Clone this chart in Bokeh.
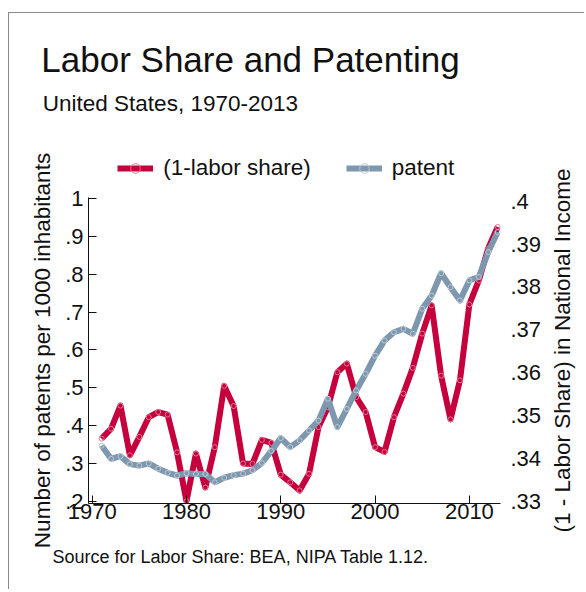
from math import pi
from bokeh.plotting import figure
from bokeh.layouts import column, row
from bokeh.models import Range1d, LinearAxis, FixedTicker, Legend, LegendItem, Label
from bokeh.embed import file_html
from bokeh.resources import INLINE

# ---------------- data ----------------
years = list(range(1971, 2014))
one_minus_labor_share = [
    0.3446, 0.3469, 0.3523, 0.3407, 0.3450, 0.3496, 0.3508, 0.3502, 0.3414, 0.3300,
    0.3411, 0.3332, 0.3426, 0.3569, 0.3522, 0.3388, 0.3387, 0.3443, 0.3436, 0.3362,
    0.3344, 0.3325, 0.3364, 0.3473, 0.3519, 0.3601, 0.3621, 0.3543, 0.3508, 0.3426,
    0.3415, 0.3496, 0.3551, 0.3611, 0.3691, 0.3757, 0.3593, 0.3491, 0.3582, 0.3759,
    0.3815, 0.3890, 0.3940,
]
patent = [
    0.347, 0.312, 0.319, 0.298, 0.294, 0.300, 0.286, 0.275, 0.268, 0.274,
    0.272, 0.272, 0.250, 0.262, 0.269, 0.273, 0.282, 0.301, 0.333, 0.367,
    0.343, 0.361, 0.387, 0.413, 0.471, 0.396, 0.444, 0.493, 0.537, 0.585,
    0.625, 0.647, 0.656, 0.643, 0.709, 0.744, 0.803, 0.766, 0.731, 0.784,
    0.793, 0.859, 0.912,
]
year_ticks = [1970, 1980, 1990, 2000, 2010]
left_ticks = [0.2, 0.3, 0.4, 0.5, 0.6, 0.7, 0.8, 0.9, 1.0]
left_tick_labels = [".2", ".3", ".4", ".5", ".6", ".7", ".8", ".9", "1"]
right_ticks = [0.33, 0.34, 0.35, 0.36, 0.37, 0.38, 0.39, 0.40]
right_tick_labels = [".33", ".34", ".35", ".36", ".37", ".38", ".39", ".4"]

title_text = "Labor Share and Patenting"
subtitle_text = "United States, 1970-2013"
source_text = "Source for Labor Share: BEA, NIPA Table 1.12."
left_title = "Number of patents per 1000 inhabitants"
right_title = "(1 - Labor Share) in National Income"
series_names = ["(1-labor share)", "patent"]

# ---------------- style ----------------
FONT = "Liberation Sans"
RED = "#c5003c"
RED_MK = "#e07a94"
BLUE = "#7d98ae"
BLUE_MK = "#bccad6"
INK = "#111111"

X0, X1 = 1969.61, 2013.30
YL0, YL1 = 0.1939, 1.0034
YR0, YR1 = 0.32946, 0.40086

COMMON = dict(output_backend="svg", toolbar_location=None, title=None)


def blank_fig(w, h, xr=None, yr=None):
    f = figure(width=w, height=h, x_range=xr or Range1d(0, w), y_range=yr or Range1d(h, 0),
               x_axis_type=None, y_axis_type=None, min_border=0, **COMMON)
    f.outline_line_color = None
    f.background_fill_color = None
    f.border_fill_color = None
    return f


def text(f, x, y, s, size, angle=0.0, align="left"):
    f.add_layout(Label(x=x, y=y, text=s, text_font=FONT, text_font_size=size,
                       text_color=INK, text_baseline="alphabetic", text_align=align,
                       angle=angle))


# ---------------- top: title + subtitle ----------------
top = blank_fig(576, 128)
text(top, 32.8, 47.2, title_text, "35px")
text(top, 34.3, 91, subtitle_text, "22.5px")

# ---------------- side titles ----------------
left_fig = blank_fig(50, 407)
text(left_fig, 33.7, 210, left_title, "22.5px", angle=pi / 2, align="center")
right_fig = blank_fig(40, 407)
text(right_fig, 17.9, 210, right_title, "22.5px", angle=pi / 2, align="center")

# ---------------- bottom: source ----------------
bottom = blank_fig(576, 42)
text(bottom, 44, 9.2, source_text, "18px")

# ---------------- legend strip ----------------
lf = blank_fig(486, 45, xr=Range1d(0, 1), yr=Range1d(0, 1))
lr1 = lf.line(years, one_minus_labor_share, line_color=RED, line_width=6)
lp1 = lf.scatter(years, one_minus_labor_share, size=5, fill_color=None, line_color=RED_MK)
lr2 = lf.line(years, patent, line_color=BLUE, line_width=6)
lp2 = lf.scatter(years, patent, size=5, fill_color=None, line_color=BLUE_MK)
legend = Legend(items=[LegendItem(label=series_names[0], renderers=[lr1, lp1]),
                       LegendItem(label=series_names[1], renderers=[lr2, lp2])],
                orientation="horizontal", location=(29.2, 3.6),
                glyph_width=36, glyph_height=24, label_height=24, label_standoff=10,
                spacing=35, padding=0, margin=0, border_line_color=None,
                background_fill_alpha=0, label_text_font=FONT, label_text_font_size="22.5px",
                label_text_color=INK)
lf.add_layout(legend, "center")

# ---------------- main chart ----------------
p = figure(width=486, height=362, x_range=Range1d(X0, X1), y_range=Range1d(YL0, YL1),
           min_border_left=30, min_border_right=44, min_border_top=12, min_border_bottom=44,
           **COMMON)
p.border_fill_color = None
p.background_fill_color = None
p.outline_line_color = None
p.xgrid.visible = False
p.ygrid.visible = False
p.extra_y_ranges = {"share": Range1d(YR0, YR1)}

xa = p.xaxis[0]
xa.ticker = FixedTicker(ticks=year_ticks)
xa.major_tick_in = 8
xa.major_tick_out = 0
xa.minor_tick_line_color = None
xa.major_label_standoff = 0
xa.major_label_text_font = FONT
xa.major_label_text_font_size = "22px"
xa.major_label_text_color = INK
xa.axis_line_color = INK
xa.major_tick_line_color = INK

ya = p.yaxis[0]
ya.ticker = FixedTicker(ticks=left_ticks)
ya.major_label_overrides = dict(zip(left_ticks, left_tick_labels))
ya.major_tick_in = 8
ya.major_tick_out = 0
ya.minor_tick_line_color = None
ya.major_label_standoff = 5
ya.major_label_text_font = FONT
ya.major_label_text_font_size = "22px"
ya.major_label_text_color = INK
ya.axis_line_color = INK
ya.major_tick_line_color = INK

ra = LinearAxis(y_range_name="share", ticker=FixedTicker(ticks=right_ticks))
ra.major_label_overrides = dict(zip(right_ticks, right_tick_labels))
ra.axis_line_color = None
ra.major_tick_line_color = None
ra.minor_tick_line_color = None
ra.major_tick_in = 0
ra.major_tick_out = 0
ra.major_label_standoff = 10
ra.major_label_text_font = FONT
ra.major_label_text_font_size = "22px"
ra.major_label_text_color = INK
p.add_layout(ra, "right")

p.line(years, one_minus_labor_share, y_range_name="share", line_color=RED, line_width=6,
       line_join="round")
p.scatter(years, one_minus_labor_share, y_range_name="share", size=5, fill_color=None,
          line_color=RED_MK, line_width=1)
p.line(years, patent, line_color=BLUE, line_width=6, line_join="round")
p.scatter(years, patent, size=5, fill_color=None, line_color=BLUE_MK, line_width=1)

layout = column(top, row(left_fig, column(lf, p), right_fig), bottom)
layout.margin = (12, 0, 0, 8)
layout.styles = {"box-shadow": "inset 1px 1px 0 0 #8a8a8a"}

open("out.html", "w").write(file_html(layout, INLINE))
